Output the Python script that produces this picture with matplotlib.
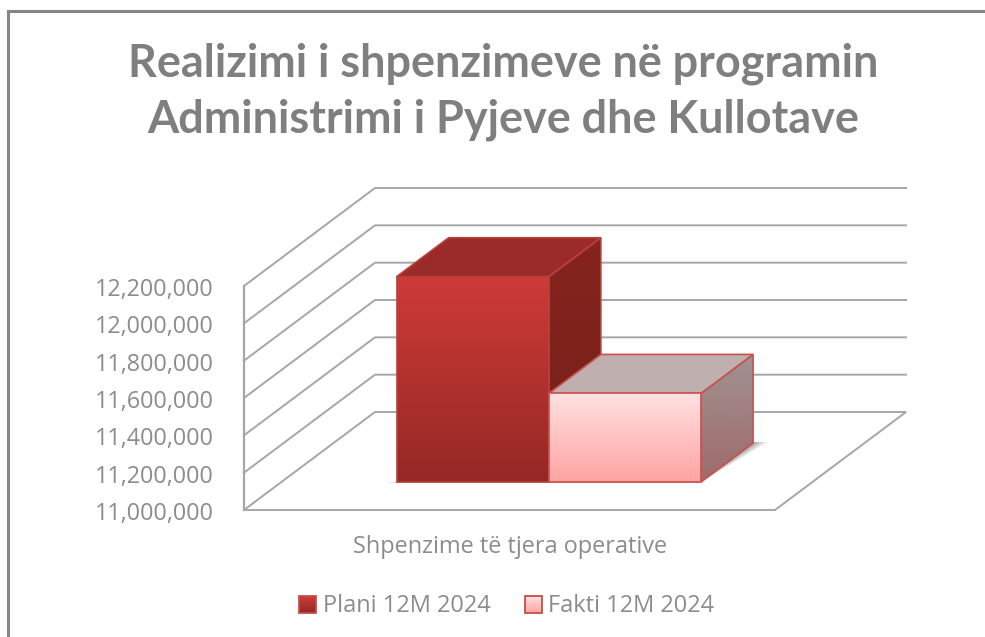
import numpy as np
import matplotlib
matplotlib.use("Agg")
import matplotlib.pyplot as plt
from matplotlib.patches import Polygon, Rectangle
from matplotlib.colors import LinearSegmentedColormap

title_lines = ["Realizimi i shpenzimeve në programin", "Administrimi i Pyjeve dhe Kullotave"]
category = "Shpenzime të tjera operative"
series_names = ["Plani 12M 2024", "Fakti 12M 2024"]
series_values = [12100000, 11475000]
tick_values = [11000000, 11200000, 11400000, 11600000, 11800000, 12000000, 12200000]

TEXT = "#7f7f7f"
TICK = "#8c8c8c"
GRID = "#a6a6a6"
EDGE = "#c8514f"
FONT = "Lato"
BODY = "Open Sans"

W, H = 985, 637
fig = plt.figure(figsize=(W/100, H/100), dpi=100)
ax = fig.add_axes([0, 0, 1, 1])
ax.set_xlim(0, W)
ax.set_ylim(H, 0)
ax.axis("off")

X0, Y0, XW = 244, 510, 531
DX, DY = 131, -98
VMIN, VMAX = tick_values[0], tick_values[-1]
VH = 224

def proj(x, v, d=0.0):
    return (X0 + x*XW + d*DX, Y0 - (v-VMIN)/(VMAX-VMIN)*VH + d*DY)

for v in tick_values:
    pts = [proj(0, v, 0), proj(0, v, 1), proj(1, v, 1)]
    if v == VMIN:
        pts = [proj(1, v, 0), proj(1, v, 1), proj(0, v, 1), proj(0, v, 0), proj(1, v, 0)]
    ax.plot(*zip(*pts), color=GRID, lw=1.4, solid_joinstyle="miter", zorder=1)
    ax.text(214, proj(0, v)[1]+4, f"{v:,}", ha="right", va="center",
            fontsize=16.8, color=TICK, family=BODY)
ax.plot(*zip(proj(0, VMIN), proj(0, VMAX)), color=GRID, lw=1.6, zorder=1)

def gradient(poly, c_top, c_bot, zorder):
    xs, ys = zip(*poly)
    cmap = LinearSegmentedColormap.from_list("g", [c_top, c_bot])
    im = ax.imshow(np.linspace(0, 1, 256)[:, None], cmap=cmap, aspect="auto",
                   extent=(min(xs), max(xs), max(ys), min(ys)), zorder=zorder, interpolation="bilinear")
    p = Polygon(poly, closed=True, transform=ax.transData, fc="none", ec="none")
    ax.add_patch(p)
    im.set_clip_path(p)
    ax.set_xlim(0, W)
    ax.set_ylim(H, 0)

bar_x = [0.2170, 0.5037]
bar_w = 0.2865
d0, d1 = 0.286, 0.683
styles = [
    dict(front=("#ce3b37", "#952825"), top="#9a2b29", side=("#86241f", "#752019"), edge="#b8403c"),
    dict(front=("#ffe1e1", "#ffa3a3"), top="#bfafaf", side=("#a09292", "#a06a6a"), edge=EDGE),
]

# soft floor shadow
sx0, sx1 = bar_x[0], bar_x[1] + bar_w
for grow, a in [(0.03, 0.18), (0.02, 0.22), (0.01, 0.3)]:
    ax.add_patch(Polygon([proj(sx0-grow*0.6, VMIN, d0-0.008), proj(sx1, VMIN, d0-0.008),
                          proj(sx1+grow*0.8, VMIN, d1+0.01), proj(sx1-0.02, VMIN, d1+0.01)],
                         closed=True, fc="#707070", ec="none", alpha=a, zorder=2))

for i, (bx, val, st) in enumerate(zip(bar_x, series_values, styles)):
    x1 = bx + bar_w
    front = [proj(bx, val, d0), proj(x1, val, d0), proj(x1, VMIN, d0), proj(bx, VMIN, d0)]
    top = [proj(bx, val, d0), proj(x1, val, d0), proj(x1, val, d1), proj(bx, val, d1)]
    side = [proj(x1, val, d0), proj(x1, val, d1), proj(x1, VMIN, d1), proj(x1, VMIN, d0)]
    z = 3 + i*2
    gradient(side, st["side"][0], st["side"][1], z)
    ax.add_patch(Polygon(side, closed=True, fc="none", ec=st["edge"], lw=1.2, zorder=z+0.2))
    ax.add_patch(Polygon(top, closed=True, fc=st["top"], ec=st["edge"], lw=1.2, zorder=z+0.2))
    gradient(front, st["front"][0], st["front"][1], z+0.4)
    ax.add_patch(Polygon(front, closed=True, fc="none", ec=st["edge"], lw=1.2, zorder=z+0.6))

ax.text(510, 547, category, ha="center", va="center", fontsize=16.9, color=TICK, family=BODY)

for (kx, tx, name, st) in zip([299, 525], [323, 548], series_names, styles):
    cmap = LinearSegmentedColormap.from_list("k", st["front"])
    ax.imshow(np.linspace(0, 1, 64)[:, None], cmap=cmap, aspect="auto",
              extent=(kx, kx+17, 613, 596), zorder=8)
    ax.add_patch(Rectangle((kx, 596), 17, 17, fc="none", ec="#c0504d", lw=1.3, zorder=9))
    ax.text(tx, 606, name, ha="left", va="center", fontsize=17, color=TICK, family=BODY)
ax.set_xlim(0, W)
ax.set_ylim(H, 0)

ax.text(503.5, 64, title_lines[0], ha="center", va="center", fontsize=32.4, fontweight="bold", color=TEXT, family=FONT)
ax.text(503, 120, title_lines[1], ha="center", va="center", fontsize=32.4, fontweight="bold", color=TEXT, family=FONT)

ax.plot([W+5, 8, 8], [11, 11, H+5], color="#868686", lw=2.2, solid_joinstyle="miter", zorder=10)

fig.savefig("out.png", dpi=100)
